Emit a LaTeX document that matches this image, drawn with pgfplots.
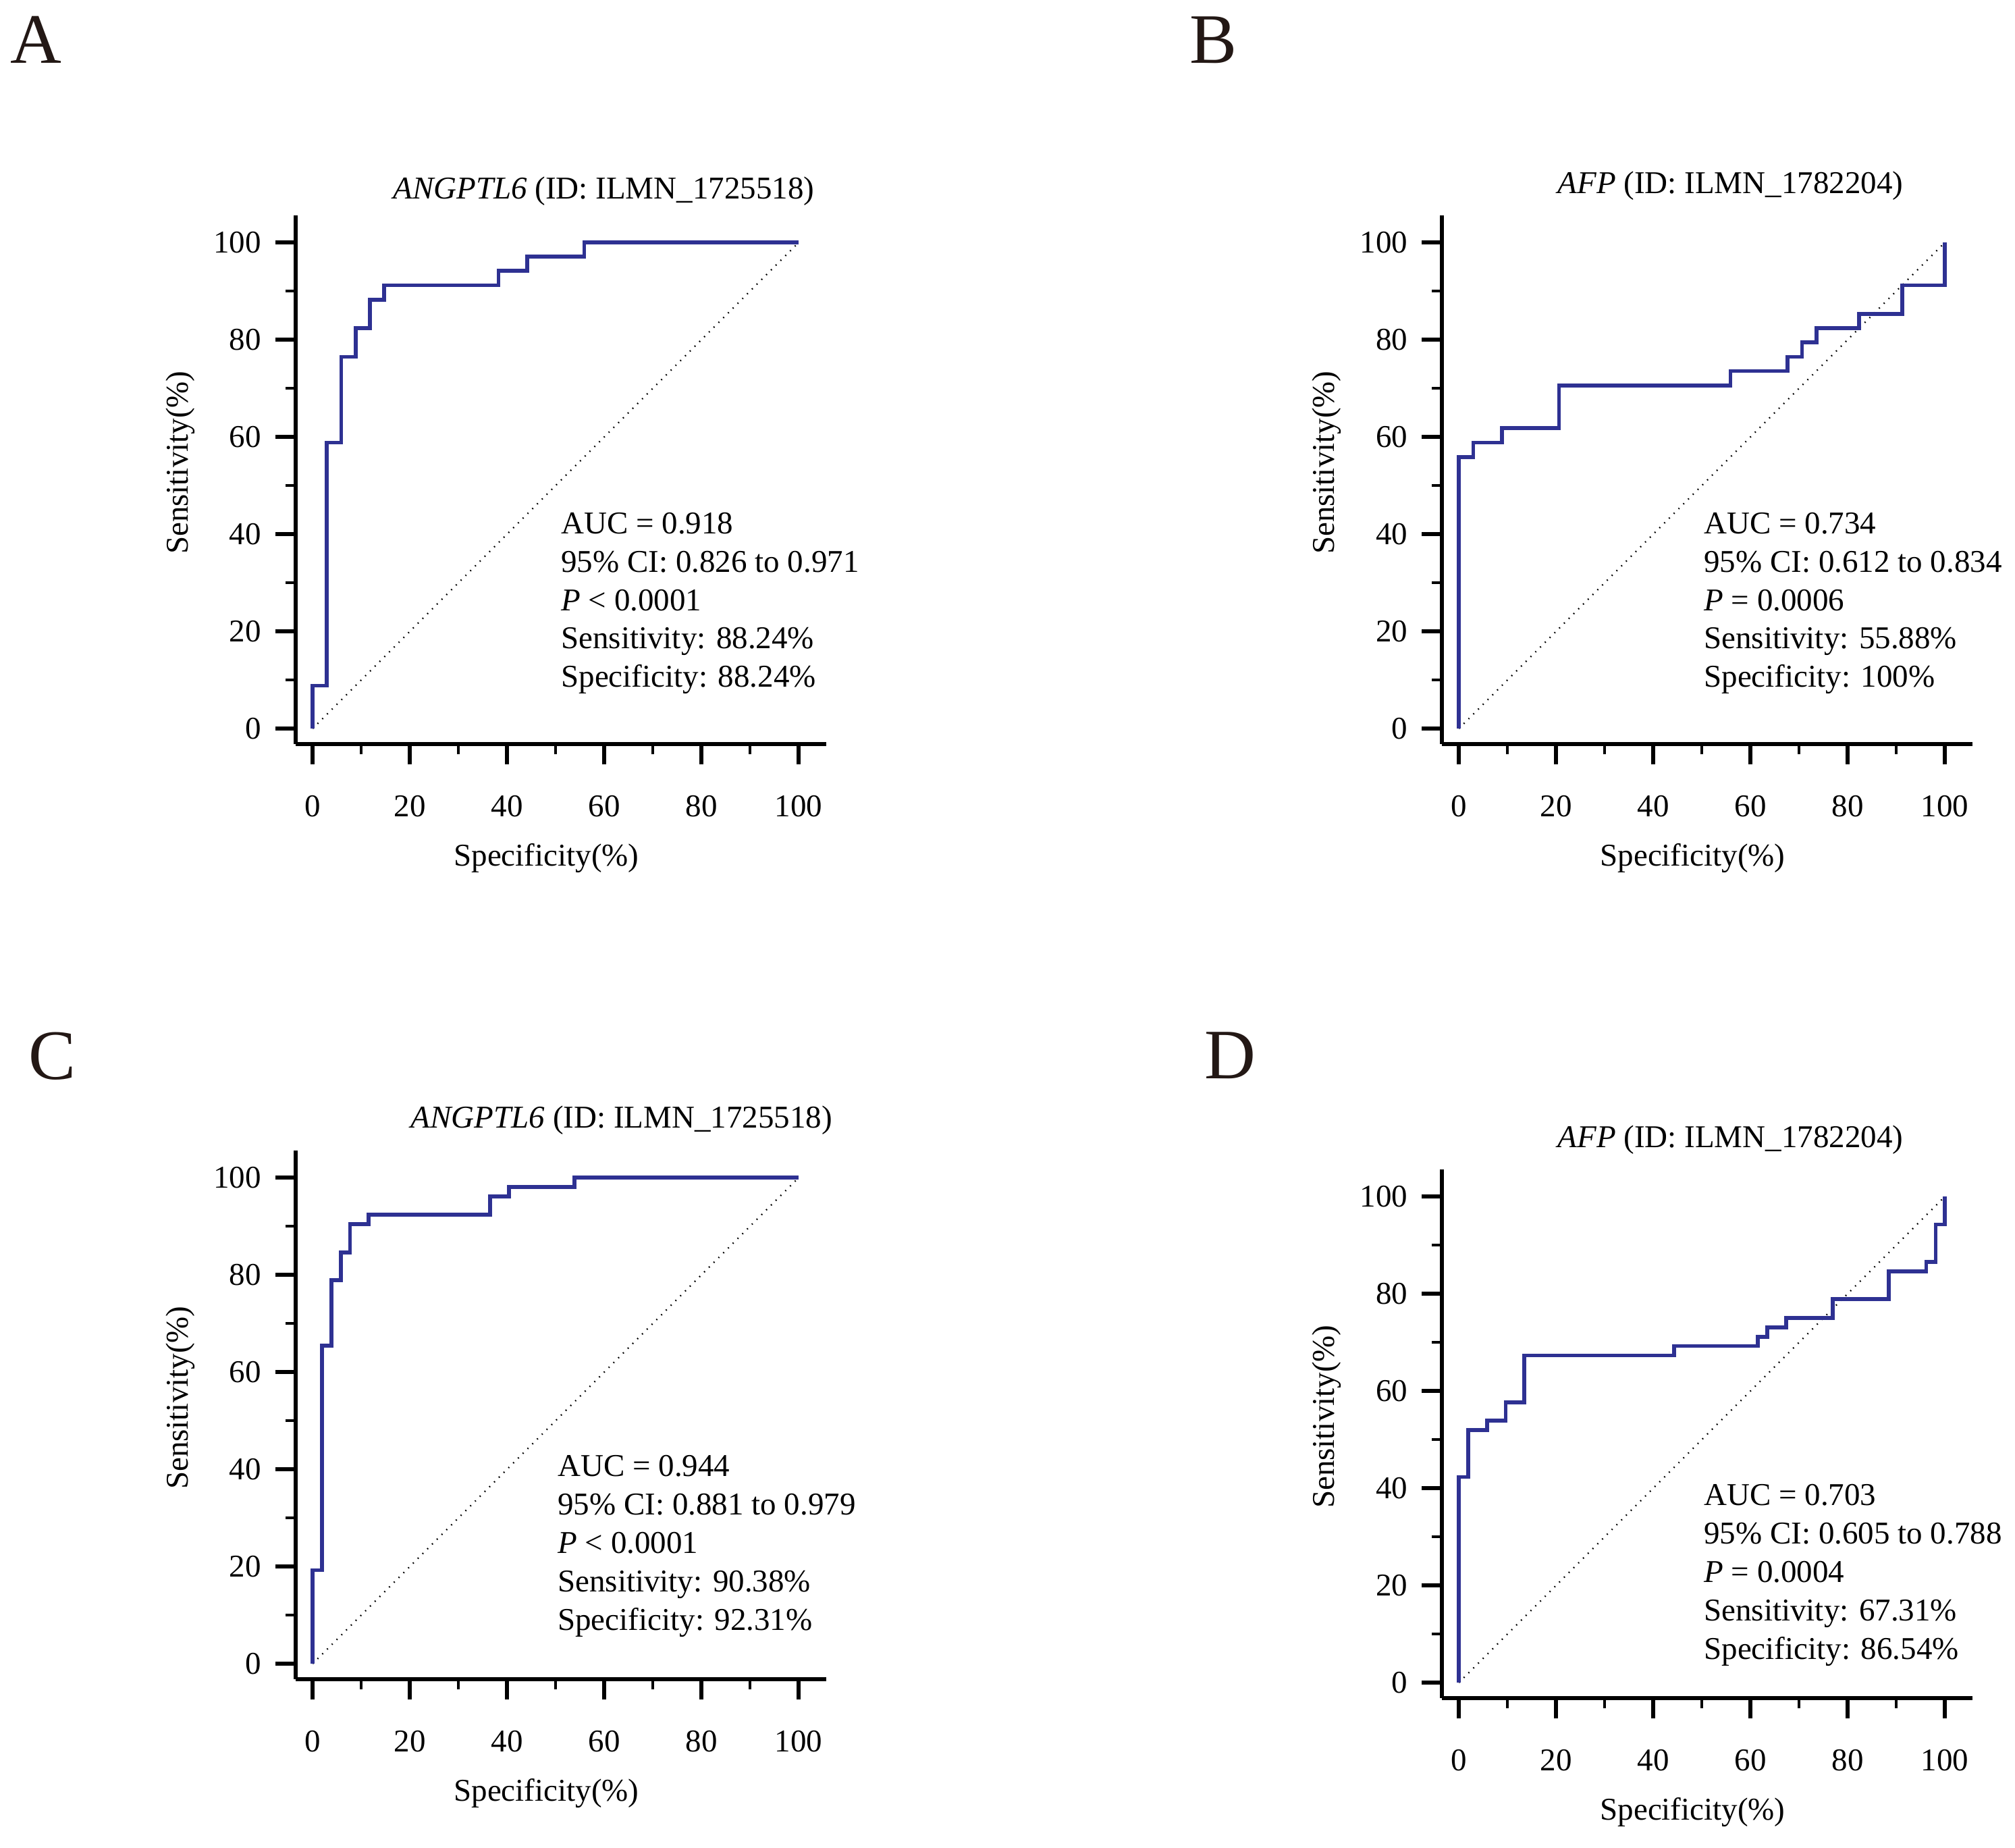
\documentclass[border=0pt]{standalone}
\usepackage{fontspec}
\setmainfont{Liberation Serif}
\usepackage{pgfplots}
\pgfplotsset{compat=1.18}

\definecolor{rocblue}{RGB}{46,49,146}
\definecolor{letter}{RGB}{35,24,21}

% one picture px of the reference = 0.2pt, 100 % = 720 px
\pgfplotsset{
  roc/.style={
    x=1.44pt, y=1.44pt,
    xmin=-3.5, xmax=105.6, ymin=-3.2, ymax=105.5,
    axis x line*=bottom, axis y line*=left,
    axis line style={-, line width=1.3pt},
    tick align=outside,
    xtick={0,20,...,100}, ytick={0,20,...,100},
    minor xtick={10,30,...,90}, minor ytick={10,30,...,90},
    major tick length=6pt, minor tick length=3pt,
    major tick style={black, line width=1.1pt},
    minor tick style={black, line width=0.8pt},
    /pgf/number format/assume math mode=true,
    ticklabel style={font=\fontsize{9.4}{11}\selectfont},
    xticklabel style={inner sep=0pt, anchor=north, yshift=-9.1pt},
    yticklabel style={inner sep=0pt, anchor=east, xshift=-4pt},
    clip=false,
    anchor=south west,
  },
  curve/.style={rocblue, line width=1.15pt, const plot, no marks},
  diag/.style={black, line width=0.45pt, dash pattern=on 0.35pt off 1.65pt, no marks},
}
\tikzset{info/.style={anchor=base west, inner sep=0pt, font=\fontsize{9.4}{11}\selectfont}}

\newcommand{\labels}{%
  \node[anchor=base, inner sep=0pt, font=\fontsize{9.4}{11}\selectfont] at (axis cs:48.1,-28.3) {Specificity(\%)};
  \node[anchor=base, rotate=90, inner sep=0pt, font=\fontsize{9.4}{11}\selectfont] at (axis cs:-25.6,54.7) {Sensitivity(\%)};
}

\begin{document}
\begin{tikzpicture}
\useasboundingbox (0,0) rectangle (597pt,-547.2pt);

\node[anchor=base west, inner sep=0pt, text=letter, font=\fontsize{21}{24}\selectfont] at (3pt,-18.6pt) {A};
\node[anchor=base west, inner sep=0pt, text=letter, font=\fontsize{21}{24}\selectfont] at (352.2pt,-18.6pt) {B};
\node[anchor=base west, inner sep=0pt, text=letter, font=\fontsize{21}{24}\selectfont] at (8.2pt,-319.6pt) {C};
\node[anchor=base west, inner sep=0pt, text=letter, font=\fontsize{21}{24}\selectfont] at (356.6pt,-319.4pt) {D};

% A
\begin{axis}[roc, at={(87.6pt,-220.4pt)}]
\addplot[diag] coordinates {(0,0) (100,100)};
\addplot[curve] coordinates {(0,0) (0,8.82) (2.94,58.82) (5.88,76.47) (8.82,82.35)
  (11.76,88.24) (14.71,91.18) (38.24,94.12) (44.12,97.06) (55.88,100) (100,100)};
\node[info] at (axis cs:16.4,108.9) {\textit{ANGPTL6} (ID: ILMN\_1725518)};
\node[info] at (axis cs:51.0,40.1) {AUC = 0.918};
\node[info] at (axis cs:51.0,32.2) {95\% CI: 0.826 to 0.971};
\node[info] at (axis cs:51.0,24.3) {\textit{P} < 0.0001};
\node[info] at (axis cs:51.0,16.4) {Sensitivity: 88.24\%};
\node[info] at (axis cs:51.0,8.5) {Specificity: 88.24\%};
\labels
\end{axis}

% B
\begin{axis}[roc, at={(427.2pt,-220.4pt)}]
\addplot[diag] coordinates {(0,0) (100,100)};
\addplot[curve] coordinates {(0,0) (0,55.88) (2.94,58.82) (8.82,61.76) (20.59,70.59)
  (55.88,73.53) (67.65,76.47) (70.59,79.41) (73.53,82.35) (82.35,85.29) (91.18,91.18) (100,100)};
\node[info] at (axis cs:20.2,110.0) {\textit{AFP} (ID: ILMN\_1782204)};
\node[info] at (axis cs:50.3,40.1) {AUC = 0.734};
\node[info] at (axis cs:50.3,32.2) {95\% CI: 0.612 to 0.834};
\node[info] at (axis cs:50.3,24.3) {\textit{P} = 0.0006};
\node[info] at (axis cs:50.3,16.4) {Sensitivity: 55.88\%};
\node[info] at (axis cs:50.3,8.5) {Specificity: 100\%};
\labels
\end{axis}

% C
\begin{axis}[roc, at={(87.6pt,-497.4pt)}]
\addplot[diag] coordinates {(0,0) (100,100)};
\addplot[curve] coordinates {(0,0) (0,19.23) (1.92,65.38) (3.85,78.85) (5.77,84.62)
  (7.69,90.38) (11.54,92.31) (36.54,96.15) (40.38,98.08) (53.85,100) (100,100)};
\node[info] at (axis cs:20.1,110.2) {\textit{ANGPTL6} (ID: ILMN\_1725518)};
\node[info] at (axis cs:50.3,38.5) {AUC = 0.944};
\node[info] at (axis cs:50.3,30.6) {95\% CI: 0.881 to 0.979};
\node[info] at (axis cs:50.3,22.7) {\textit{P} < 0.0001};
\node[info] at (axis cs:50.3,14.8) {Sensitivity: 90.38\%};
\node[info] at (axis cs:50.3,6.9) {Specificity: 92.31\%};
\labels
\end{axis}

% D
\begin{axis}[roc, at={(427.2pt,-503pt)}]
\addplot[diag] coordinates {(0,0) (100,100)};
\addplot[curve] coordinates {(0,0) (0,42.31) (1.92,51.92) (5.77,53.85) (9.62,57.69)
  (13.46,67.31) (44.23,69.23) (61.54,71.15) (63.46,73.08) (67.31,75.00) (76.92,78.85)
  (88.46,84.62) (96.15,86.54) (98.08,94.23) (100,100)};
\node[info] at (axis cs:20.2,110.1) {\textit{AFP} (ID: ILMN\_1782204)};
\node[info] at (axis cs:50.3,36.4) {AUC = 0.703};
\node[info] at (axis cs:50.3,28.5) {95\% CI: 0.605 to 0.788};
\node[info] at (axis cs:50.3,20.6) {\textit{P} = 0.0004};
\node[info] at (axis cs:50.3,12.7) {Sensitivity: 67.31\%};
\node[info] at (axis cs:50.3,4.8) {Specificity: 86.54\%};
\labels
\end{axis}
\end{tikzpicture}
\end{document}
